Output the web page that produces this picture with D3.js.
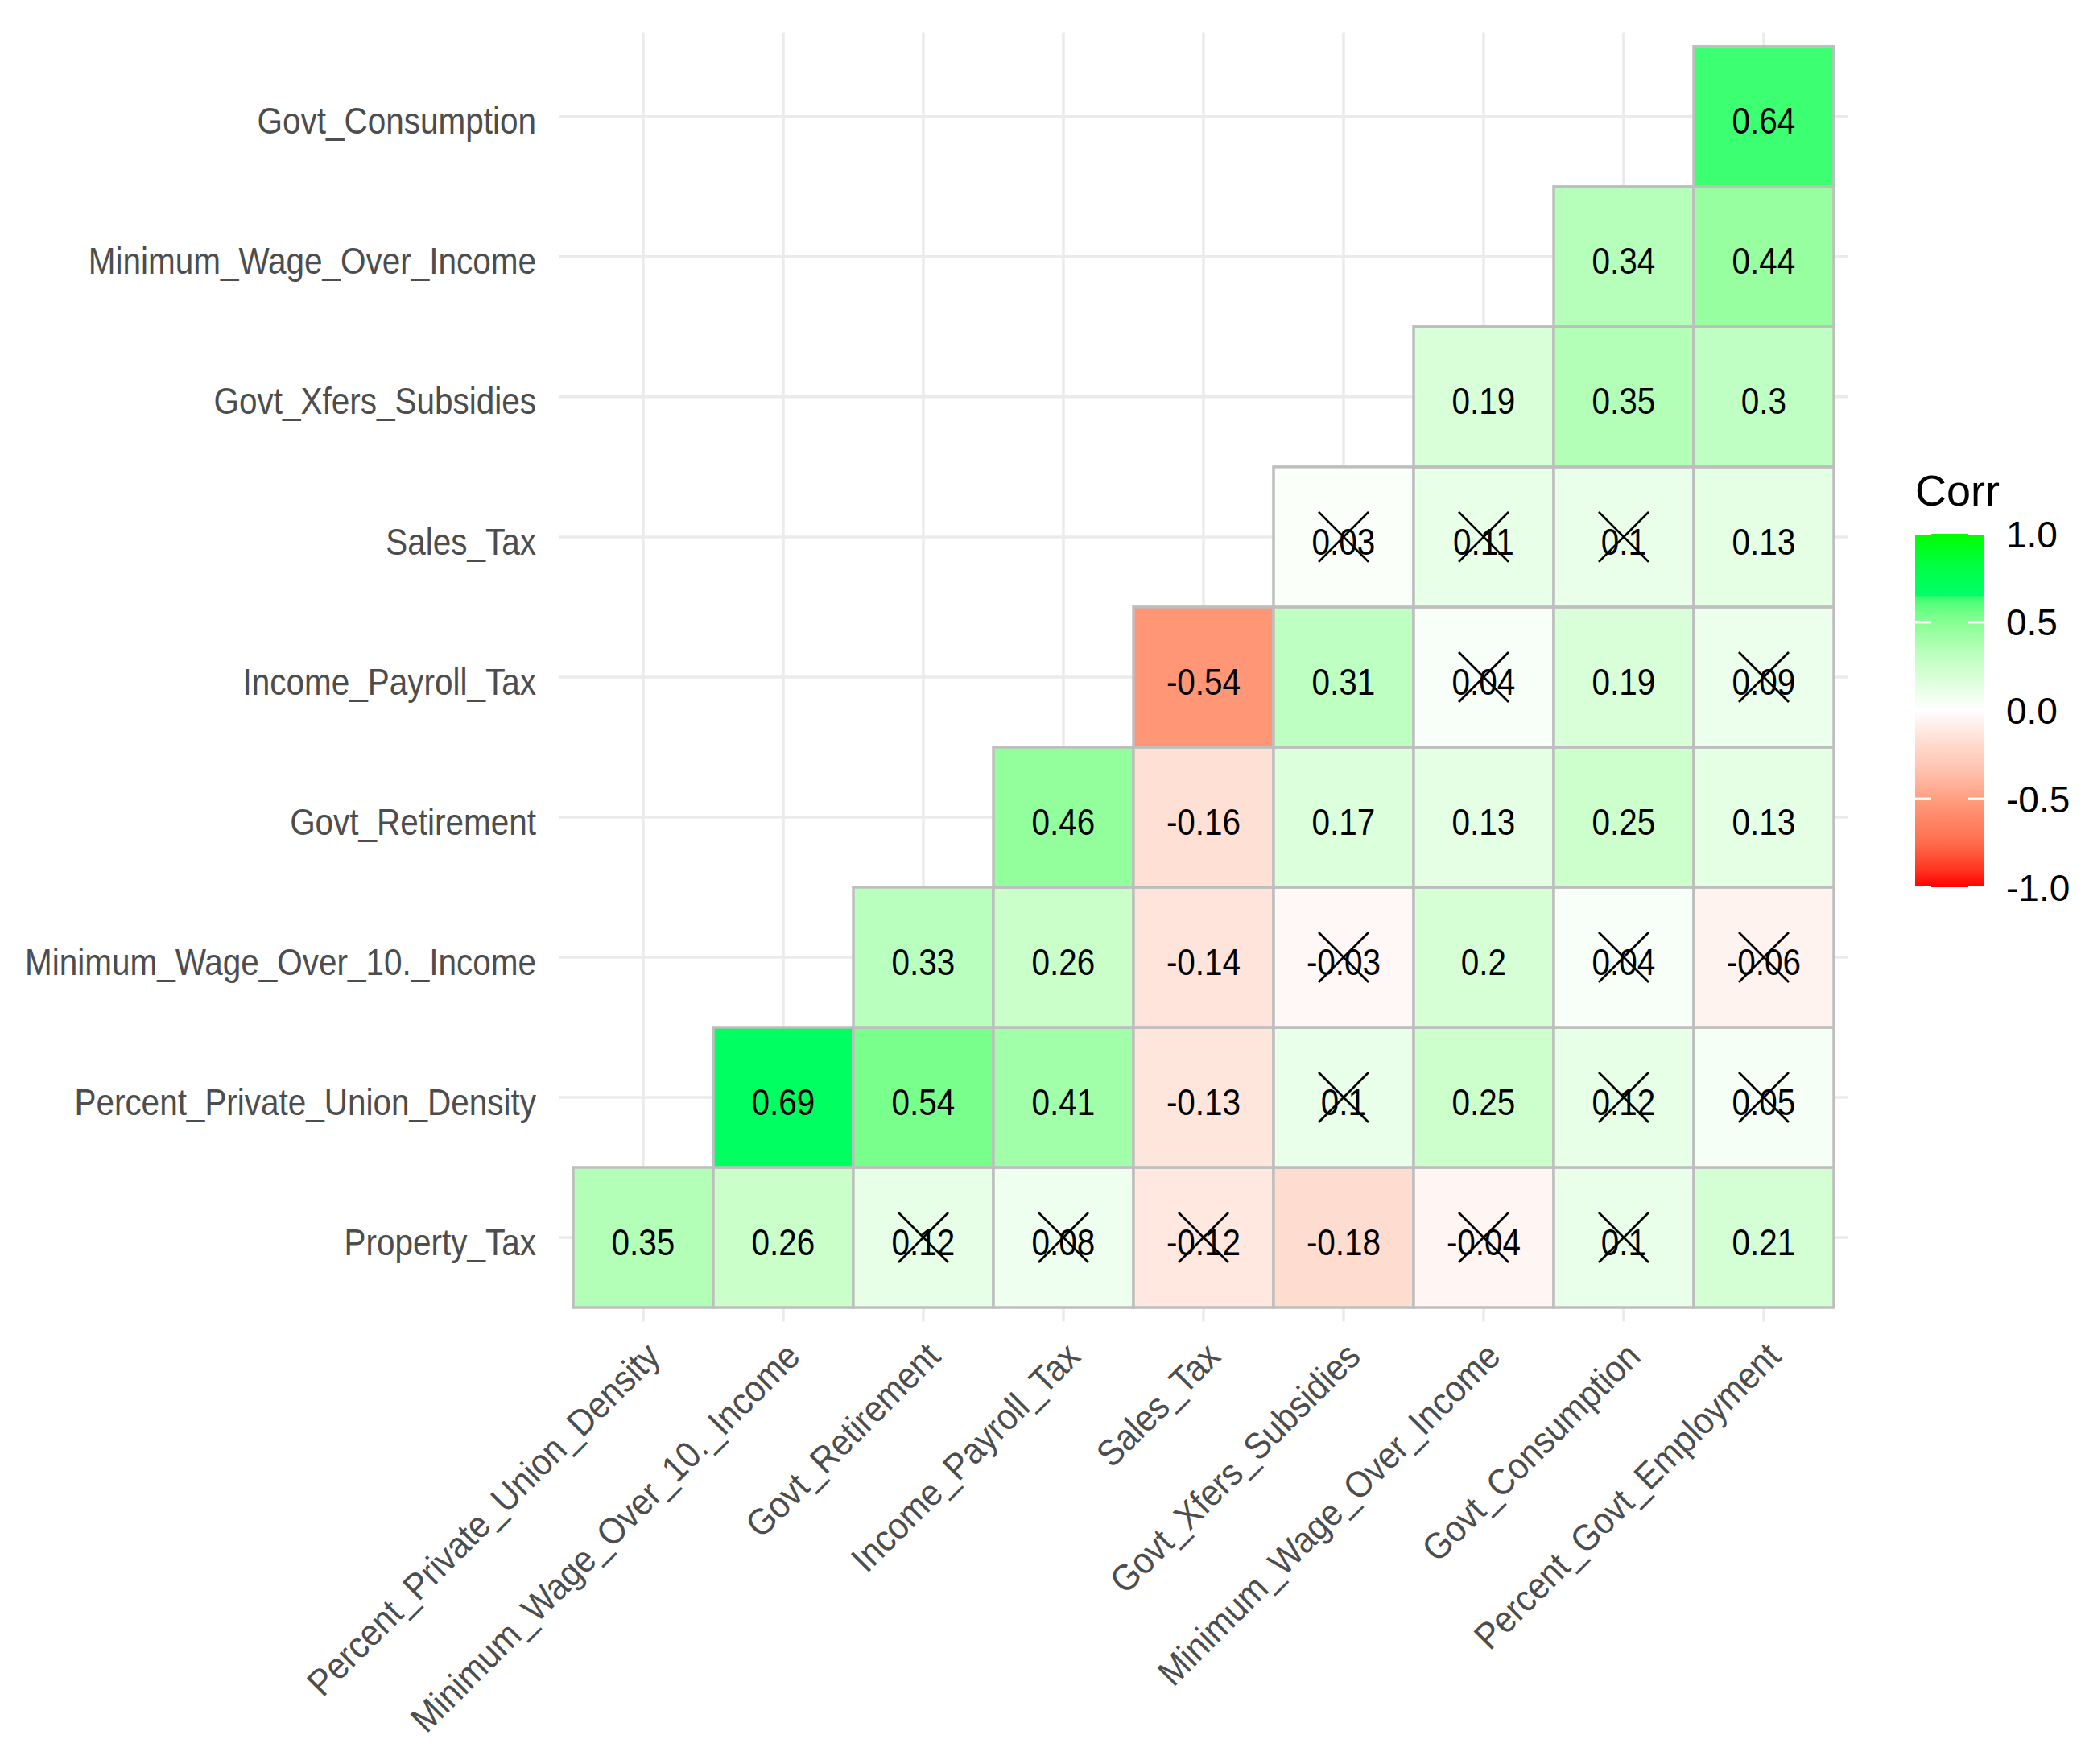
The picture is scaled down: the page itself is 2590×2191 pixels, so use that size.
<!DOCTYPE html>
<html>
<head>
<meta charset="utf-8">
<script src="https://cdn.jsdelivr.net/npm/d3@7"></script>
<style>
  html, body { margin: 0; padding: 0; background: #ffffff; }
  svg { display: block; }
  text { font-family: "Liberation Sans", Arial, sans-serif; }
</style>
</head>
<body>
<svg id="chart" width="2590" height="2191"></svg>
<script>
// ---------------- data ----------------
const xCats = ["Percent_Private_Union_Density", "Minimum_Wage_Over_10._Income", "Govt_Retirement",
  "Income_Payroll_Tax", "Sales_Tax", "Govt_Xfers_Subsidies", "Minimum_Wage_Over_Income",
  "Govt_Consumption", "Percent_Govt_Employment"];
// bottom to top
const yCats = ["Property_Tax", "Percent_Private_Union_Density", "Minimum_Wage_Over_10._Income",
  "Govt_Retirement", "Income_Payroll_Tax", "Sales_Tax", "Govt_Xfers_Subsidies",
  "Minimum_Wage_Over_Income", "Govt_Consumption"];

// row values (row k starts at column k)
const rowProperty_Tax = [0.35, 0.26, 0.12, 0.08, -0.12, -0.18, -0.04, 0.1, 0.21];
const rowUnion_Density = [0.69, 0.54, 0.41, -0.13, 0.1, 0.25, 0.12, 0.05];
const rowMinWage10 = [0.33, 0.26, -0.14, -0.03, 0.2, 0.04, -0.06];
const rowGovt_Retirement = [0.46, -0.16, 0.17, 0.13, 0.25, 0.13];
const rowIncome_Payroll_Tax = [-0.54, 0.31, 0.04, 0.19, 0.09];
const rowSales_Tax = [0.03, 0.11, 0.1, 0.13];
const rowGovt_Xfers = [0.19, 0.35, 0.3];
const rowMinWage = [0.34, 0.44];
const rowGovt_Consumption = [0.64];

// non-significant flags (crossed cells)
const insigProperty_Tax = [0, 0, 1, 1, 1, 0, 1, 1, 0];
const insigUnion_Density = [0, 0, 0, 0, 1, 0, 1, 1];
const insigMinWage10 = [0, 0, 0, 1, 0, 1, 1];
const insigGovt_Retirement = [0, 0, 0, 0, 0, 0];
const insigIncome_Payroll_Tax = [0, 0, 1, 0, 1];
const insigSales_Tax = [1, 1, 1, 0];
const insigGovt_Xfers = [0, 0, 0];
const insigMinWage = [0, 0];
const insigGovt_Consumption = [0];

const legendBreaks = [-1.0, -0.5, 0.0, 0.5, 1.0];
const legendTitle = "Corr";

const rowsVals = [rowProperty_Tax, rowUnion_Density, rowMinWage10, rowGovt_Retirement,
  rowIncome_Payroll_Tax, rowSales_Tax, rowGovt_Xfers, rowMinWage, rowGovt_Consumption];
const rowsInsig = [insigProperty_Tax, insigUnion_Density, insigMinWage10, insigGovt_Retirement,
  insigIncome_Payroll_Tax, insigSales_Tax, insigGovt_Xfers, insigMinWage, insigGovt_Consumption];

const cells = [];
rowsVals.forEach((vals, r) => {
  vals.forEach((v, k) => {
    cells.push({ x: xCats[r + k], y: yCats[r], value: v, insig: rowsInsig[r][k] === 1 });
  });
});

// ---------------- style ----------------
const colorStopsDomain = [-1, -0.9, -0.75, -0.54, -0.35, -0.18, -0.12, -0.04, 0, 0.04, 0.1, 0.19, 0.25, 0.3, 0.35, 0.41, 0.46, 0.54, 0.6, 0.645, 0.65, 0.69, 0.8, 1];
const colorStopsRange = ["#ff0000", "#ff3520", "#ff6c4c", "#ff9676", "#ffc0ac", "#ffdcd0", "#ffe8e0", "#fff6f4", "#ffffff",
  "#f8fff8", "#eaffea", "#d8ffd8", "#ccffcc", "#c0ffc4", "#b4ffb8", "#a0ffa8", "#92ff9c", "#78ff8c", "#58ff7c", "#38ff70",
  "#00ff68", "#00ff60", "#00ff48", "#00ff00"];
const color = d3.scaleLinear().domain(colorStopsDomain).range(colorStopsRange).interpolate(d3.interpolateRgb).clamp(true);

const svg = d3.select("#chart");
svg.append("rect").attr("width", 2590).attr("height", 2191).attr("fill", "#ffffff");

const panel = { left: 694.6, right: 2295.4, top: 40.4, bottom: 1641.4 };
const x = d3.scaleBand().domain(xCats).range([panel.left, panel.right]).paddingInner(0).paddingOuter(0.1);
const y = d3.scaleBand().domain(yCats).range([panel.bottom, panel.top]).paddingInner(0).paddingOuter(0.1);
const bw = x.bandwidth();
const bh = y.bandwidth();

// grid lines
const grid = svg.append("g");
grid.selectAll("line.v").data(xCats).join("line")
  .attr("x1", d => x(d) + bw / 2).attr("x2", d => x(d) + bw / 2)
  .attr("y1", panel.top).attr("y2", panel.bottom)
  .attr("stroke", "#ebebeb").attr("stroke-width", 3.5);
grid.selectAll("line.h").data(yCats).join("line")
  .attr("y1", d => y(d) + bh / 2).attr("y2", d => y(d) + bh / 2)
  .attr("x1", panel.left).attr("x2", panel.right)
  .attr("stroke", "#ebebeb").attr("stroke-width", 3.5);

// tiles
svg.append("g").selectAll("rect").data(cells).join("rect")
  .attr("x", d => x(d.x)).attr("y", d => y(d.y))
  .attr("width", bw).attr("height", bh)
  .attr("fill", d => color(d.value))
  .attr("stroke", "#bebebe").attr("stroke-width", 3.5);

// cell labels
const fs = 46, sx = 0.88, sxRot = 0.915;
svg.append("g").selectAll("text").data(cells).join("text")
  .attr("transform", d => `translate(${x(d.x) + bw / 2},${y(d.y) + bh / 2}) scale(${sx},1)`)
  .attr("text-anchor", "middle").attr("dy", "0.47em")
  .attr("font-size", fs).attr("fill", "#000000")
  .text(d => String(d.value));

// crosses for non-significant
const cr = 31;
svg.append("g").selectAll("path").data(cells.filter(d => d.insig)).join("path")
  .attr("d", d => {
    const cx = x(d.x) + bw / 2, cy = y(d.y) + bh / 2;
    return `M${cx - cr},${cy - cr}L${cx + cr},${cy + cr}M${cx - cr},${cy + cr}L${cx + cr},${cy - cr}`;
  })
  .attr("stroke", "#000000").attr("stroke-width", 2.8).attr("fill", "none");

// y axis labels
svg.append("g").selectAll("text").data(yCats).join("text")
  .attr("transform", d => `translate(666,${y(d) + bh / 2}) scale(${sx},1)`)
  .attr("text-anchor", "end").attr("dy", "0.47em")
  .attr("font-size", fs).attr("fill", "#4d4d4d")
  .text(d => d);

// x axis labels
svg.append("g").selectAll("text").data(xCats).join("text")
  .attr("transform", d => `translate(${x(d) + bw / 2},1664) rotate(-45) scale(${sxRot},1)`)
  .attr("text-anchor", "end").attr("dy", "0.72em")
  .attr("font-size", fs).attr("fill", "#4d4d4d")
  .text(d => d);

// legend
const leg = { x: 2379, w: 86, top: 663, bottom: 1102 };
const ly = d3.scaleLinear().domain([1, -1]).range([leg.top, leg.bottom]);
const defs = svg.append("defs");
const grad = defs.append("linearGradient").attr("id", "corrGrad")
  .attr("x1", 0).attr("y1", 0).attr("x2", 0).attr("y2", 1);
grad.selectAll("stop").data(colorStopsDomain.slice().reverse()).join("stop")
  .attr("offset", d => (1 - d) / 2)
  .attr("stop-color", d => color(d));
svg.append("rect").attr("x", leg.x).attr("y", leg.top).attr("width", leg.w)
  .attr("height", leg.bottom - leg.top).attr("fill", "url(#corrGrad)");
const tickLen = 20;
svg.append("g").selectAll("g").data(legendBreaks).join("g").each(function (d) {
  const g = d3.select(this);
  g.append("line").attr("x1", leg.x).attr("x2", leg.x + tickLen)
    .attr("y1", ly(d)).attr("y2", ly(d)).attr("stroke", "#ffffff").attr("stroke-width", 3.3);
  g.append("line").attr("x1", leg.x + leg.w - tickLen).attr("x2", leg.x + leg.w)
    .attr("y1", ly(d)).attr("y2", ly(d)).attr("stroke", "#ffffff").attr("stroke-width", 3.3);
});
svg.append("g").selectAll("text").data(legendBreaks).join("text")
  .attr("x", 2492).attr("y", d => ly(d)).attr("dy", "0.36em")
  .attr("font-size", 46).attr("fill", "#000000")
  .text(d => d3.format(".1f")(d).replace("−", "-"));
svg.append("text").attr("x", 2379).attr("y", 628)
  .attr("font-size", 54).attr("fill", "#000000").text(legendTitle);
</script>
</body>
</html>
